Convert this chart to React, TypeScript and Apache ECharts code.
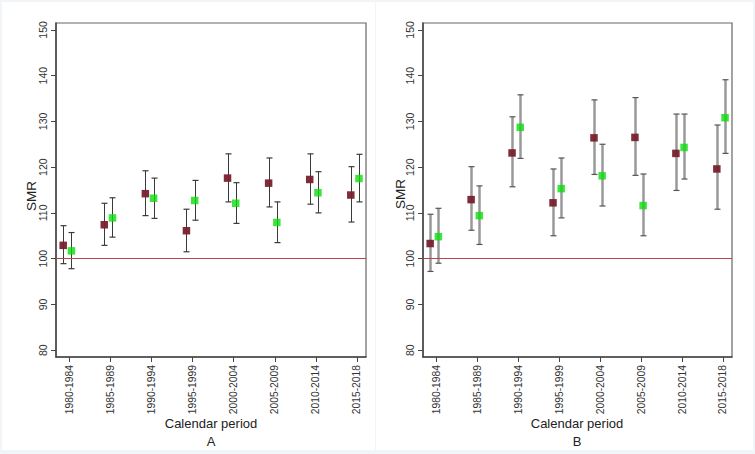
import React, { useEffect, useRef } from "react";
import * as echarts from "echarts";

const periods = ["1980-1984", "1985-1989", "1990-1994", "1995-1999", "2000-2004", "2005-2009", "2010-2014", "2015-2018"];
const yTicks = [80, 90, 100, 110, 120, 130, 140, 150];

// Panel A
const aBrownSMR = [102.9, 107.4, 114.2, 106.1, 117.6, 116.5, 117.3, 113.9];
const aBrownLo = [98.9, 102.9, 109.4, 101.5, 112.4, 111.3, 111.9, 108.0];
const aBrownHi = [107.2, 112.1, 119.2, 110.8, 122.9, 122.0, 122.9, 120.1];
const aGreenSMR = [101.7, 108.9, 113.2, 112.7, 112.1, 107.9, 114.4, 117.5];
const aGreenLo = [97.8, 104.7, 108.8, 108.4, 107.7, 103.5, 110.0, 112.4];
const aGreenHi = [105.7, 113.3, 117.6, 117.1, 116.6, 112.4, 119.0, 122.8];

// Panel B
const bBrownSMR = [103.3, 112.9, 123.1, 112.2, 126.4, 126.5, 123.0, 119.6];
const bBrownLo = [97.2, 106.2, 115.7, 105.0, 118.4, 118.2, 114.9, 110.8];
const bBrownHi = [109.7, 120.1, 131.0, 119.6, 134.7, 135.2, 131.6, 129.2];
const bGreenSMR = [104.8, 109.4, 128.7, 115.3, 118.1, 111.6, 124.3, 130.8];
const bGreenLo = [99.0, 103.1, 121.9, 108.9, 111.5, 105.0, 117.4, 123.0];
const bGreenHi = [111.0, 115.9, 135.8, 122.0, 125.0, 118.5, 131.6, 139.1];

const BROWN_OFFSET = -0.15;
const GREEN_OFFSET = 0.05;
const BROWN = "#78212d";
const GREEN = "#0ddd0d";
const FONT = "'Liberation Sans', Arial, sans-serif";

const tickPositions = periods.map((_, i) => i + 1);

function errData(lo: number[], hi: number[], off: number) {
  return lo.map((l, i) => [i + 1 + off, l, hi[i]]);
}
function ptData(v: number[], off: number) {
  return v.map((y, i) => [i + 1 + off, y]);
}

function makeErrRender(barColor: string, barWidth: number, capColor: string, capW: number) {
  return (params: any, api: any) => {
    const x = api.value(0);
    const lo = api.coord([x, api.value(1)]);
    const hi = api.coord([x, api.value(2)]);
    const px = Math.round(lo[0]) + 0.5;
    return {
      type: "group",
      children: [
        { type: "line", shape: { x1: px, y1: lo[1], x2: px, y2: hi[1] }, style: { stroke: barColor, lineWidth: barWidth } },
        { type: "line", shape: { x1: px - capW, y1: lo[1], x2: px + capW, y2: lo[1] }, style: { stroke: capColor, lineWidth: 1.2 } },
        { type: "line", shape: { x1: px - capW, y1: hi[1], x2: px + capW, y2: hi[1] }, style: { stroke: capColor, lineWidth: 1.2 } },
      ],
    };
  };
}

export default function App() {
  const ref = useRef<HTMLDivElement>(null);
  useEffect(() => {
    if (!ref.current) return;
    const chart = echarts.init(ref.current, null, { renderer: "svg" });

    const grids = [
      { left: 56, top: 23, width: 310, height: 334 },
      { left: 423, top: 23, width: 309, height: 334 },
    ];

    const xAxes = grids.map((_, gi) => ({
      type: "value",
      gridIndex: gi,
      min: 0.675,
      max: 8.22,
      splitLine: { show: false },
      axisLine: { show: true, onZero: false, lineStyle: { color: "#444", width: 1.5 } },
      axisTick: { show: true, customValues: tickPositions, length: 5, lineStyle: { color: "#444" } },
      axisLabel: {
        customValues: tickPositions,
        rotate: 90,
        margin: 8,
        fontSize: 10.3,
        color: "#333",
        fontFamily: FONT,
        formatter: (v: number) => periods[Math.round(v) - 1] ?? "",
      },
    }));

    const yAxes = grids.map((_, gi) => ({
      type: "value",
      gridIndex: gi,
      min: 78.5,
      max: 151.5,
      splitLine: { show: false },
      axisLine: { show: true, onZero: false, lineStyle: { color: "#444", width: 1.5 } },
      axisTick: { show: true, customValues: yTicks, length: 5, lineStyle: { color: "#444" } },
      axisLabel: {
        customValues: yTicks,
        rotate: 90,
        margin: 8,
        fontSize: 10.5,
        color: "#333",
        fontFamily: FONT,
      },
    }));

    const panels = [
      { brown: [aBrownSMR, aBrownLo, aBrownHi], green: [aGreenSMR, aGreenLo, aGreenHi], bar: "#3a3a3a", bw: 1, cap: "#3a3a3a" },
      { brown: [bBrownSMR, bBrownLo, bBrownHi], green: [bGreenSMR, bGreenLo, bGreenHi], bar: "#999999", bw: 2.5, cap: "#555555" },
    ];

    const series: any[] = [];
    panels.forEach((p, gi) => {
      series.push({
        type: "custom",
        xAxisIndex: gi,
        yAxisIndex: gi,
        renderItem: makeErrRender(p.bar, p.bw, p.cap, 3),
        encode: { x: 0, y: [1, 2] },
        data: errData(p.brown[1], p.brown[2], BROWN_OFFSET),
        z: 2,
      });
      series.push({
        type: "custom",
        xAxisIndex: gi,
        yAxisIndex: gi,
        renderItem: makeErrRender(p.bar, p.bw, p.cap, 3),
        encode: { x: 0, y: [1, 2] },
        data: errData(p.green[1], p.green[2], GREEN_OFFSET),
        z: 2,
      });
      series.push({
        type: "scatter",
        xAxisIndex: gi,
        yAxisIndex: gi,
        symbol: "rect",
        symbolSize: 7.5,
        itemStyle: { color: BROWN, opacity: 0.95 },
        data: ptData(p.brown[0], BROWN_OFFSET),
        z: 3,
        markLine: {
          silent: true,
          symbol: "none",
          label: { show: false },
          lineStyle: { color: "#b8454b", width: 1, type: "solid" },
          data: [{ yAxis: 100 }],
        },
      });
      series.push({
        type: "scatter",
        xAxisIndex: gi,
        yAxisIndex: gi,
        symbol: "rect",
        symbolSize: 7.5,
        itemStyle: { color: GREEN },
        data: ptData(p.green[0], GREEN_OFFSET),
        z: 4,
      });
    });

    const textStyle = (t: string, x: number, y: number, size: number, rot = 0) => ({
      type: "text",
      x,
      y,
      rotation: rot,
      z: 10,
      style: { text: t, fill: "#222", fontSize: size, fontFamily: FONT, align: "center", verticalAlign: "middle" },
    });

    chart.setOption({
      animation: false,
      backgroundColor: "#f2f5f8",
      grid: grids.map((g) => ({ ...g, show: true, borderColor: "#666", borderWidth: 1.2, backgroundColor: "transparent" })),
      xAxis: xAxes,
      yAxis: yAxes,
      series,
      graphic: [
        { type: "rect", shape: { x: 2, y: 2, width: 373, height: 448 }, style: { fill: "#ffffff" }, z: -10, silent: true },
        { type: "rect", shape: { x: 376, y: 2, width: 377, height: 448 }, style: { fill: "#ffffff" }, z: -10, silent: true },
        textStyle("SMR", 31, 196, 13.5, Math.PI / 2),
        textStyle("SMR", 400, 194, 13.5, Math.PI / 2),
        textStyle("Calendar period", 211, 423, 13),
        textStyle("A", 211, 441, 13),
        textStyle("Calendar period", 577, 423, 13),
        textStyle("B", 577, 441, 13),
      ],
    });
    return () => chart.dispose();
  }, []);
  return <div ref={ref} style={{ position: "absolute", left: 0, top: 0, width: 755, height: 454 }} />;
}
